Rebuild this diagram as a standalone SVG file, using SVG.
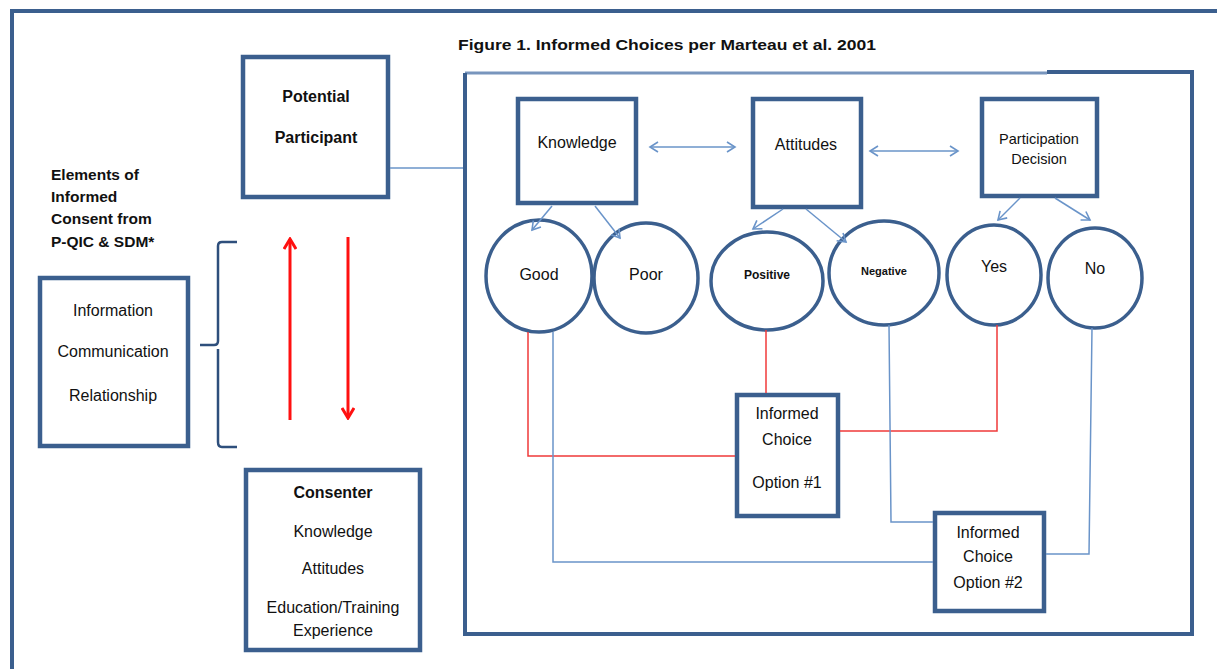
<svg xmlns="http://www.w3.org/2000/svg" width="1217" height="669" viewBox="0 0 1217 669">
<style>
.box{fill:#fff;stroke:#3b5f8e;stroke-width:4.5}
.ell{fill:#fff;stroke:#3b5f8e;stroke-width:3.5}
.t{font-family:"Liberation Sans",Arial,sans-serif;font-size:16px;fill:#111;text-anchor:middle}
.b{font-weight:bold}
.s13{font-size:14.5px}
.s11{font-size:11px;font-weight:bold}
.s12{font-size:12px;font-weight:bold}
.bl{fill:none;stroke:#6a94c9;stroke-width:1.5}
.rd{fill:none;stroke:#f03a3a;stroke-width:1.5}
.lab{font-family:"Liberation Sans",Arial,sans-serif;font-size:15.5px;font-weight:bold;fill:#111}
</style>
<defs>
<marker id="oa" markerWidth="12" markerHeight="12" refX="10" refY="6" orient="auto-start-reverse" markerUnits="userSpaceOnUse">
<path d="M2,1 L10,6 L2,11" fill="none" stroke="#6a94c9" stroke-width="1.6"/>
</marker>
<marker id="ra" markerWidth="14" markerHeight="14" refX="12" refY="7" orient="auto" markerUnits="userSpaceOnUse">
<path d="M2,1 L12,7 L2,13" fill="none" stroke="#ff1010" stroke-width="3"/>
</marker>
</defs>
<rect x="0" y="0" width="1217" height="669" fill="#fff"/>
<path d="M12,680 V11 H1230" fill="none" stroke="#3b5f8e" stroke-width="4"/>
<text x="458" y="50" font-family="Liberation Sans,Arial,sans-serif" font-size="15" font-weight="bold" fill="#111" textLength="418" lengthAdjust="spacingAndGlyphs">Figure 1. Informed Choices per Marteau et al. 2001</text>

<g id="frame">
<path d="M465,73 H1047" fill="none" stroke="#7895bd" stroke-width="3"/>
<path d="M1047,72 H1192 V634 H465 V73" fill="none" stroke="#3b5f8e" stroke-width="4"/>
</g>

<g id="potential-participant">
<rect class="box" x="243" y="57" width="145" height="140"/>
<text class="t b" x="316" y="102">Potential</text>
<text class="t b" x="316" y="143">Participant</text>
</g>

<g id="elements-label">
<text class="lab" x="51" y="180">Elements of</text>
<text class="lab" x="51" y="202">Informed</text>
<text class="lab" x="51" y="224">Consent from</text>
<text class="lab" x="51" y="247">P-QIC &amp; SDM*</text>
</g>

<g id="elements-box">
<rect class="box" x="40" y="278" width="148" height="168"/>
<text class="t" x="113" y="316">Information</text>
<text class="t" x="113" y="357">Communication</text>
<text class="t" x="113" y="401">Relationship</text>
</g>

<g id="consenter">
<rect class="box" x="246" y="470" width="174" height="180"/>
<text class="t b" x="333" y="498">Consenter</text>
<text class="t" x="333" y="537">Knowledge</text>
<text class="t" x="333" y="574">Attitudes</text>
<text class="t" x="333" y="613">Education/Training</text>
<text class="t" x="333" y="636">Experience</text>
</g>

<g id="knowledge">
<rect class="box" x="518" y="99" width="118" height="104"/>
<text class="t" x="577" y="148">Knowledge</text>
</g>
<g id="attitudes">
<rect class="box" x="753" y="99" width="108" height="108"/>
<text class="t" x="806" y="150">Attitudes</text>
</g>
<g id="participation-decision">
<rect class="box" x="982" y="99" width="115" height="97"/>
<text class="t s13" x="1039" y="144">Participation</text>
<text class="t s13" x="1039" y="164">Decision</text>
</g>

<g id="good"><ellipse class="ell" cx="539" cy="276" rx="53" ry="56"/><text class="t" x="539" y="280">Good</text></g>
<g id="poor"><ellipse class="ell" cx="646" cy="278" rx="52" ry="55"/><text class="t" x="646" y="280">Poor</text></g>
<g id="positive"><ellipse class="ell" cx="767" cy="281" rx="56" ry="49"/><text class="t s12" x="767" y="279">Positive</text></g>
<g id="negative"><ellipse class="ell" cx="884" cy="273" rx="55" ry="52"/><text class="t s11" x="884" y="275">Negative</text></g>
<g id="yes"><ellipse class="ell" cx="994" cy="275" rx="47" ry="50"/><text class="t" x="994" y="272">Yes</text></g>
<g id="no"><ellipse class="ell" cx="1095" cy="278" rx="47" ry="50"/><text class="t" x="1095" y="274">No</text></g>

<g id="option1">
<rect class="box" x="737" y="395" width="101" height="121"/>
<text class="t" x="787" y="419">Informed</text>
<text class="t" x="787" y="445">Choice</text>
<text class="t" x="787" y="488">Option #1</text>
</g>
<g id="option2">
<rect class="box" x="935" y="513" width="109" height="98"/>
<text class="t" x="988" y="538">Informed</text>
<text class="t" x="988" y="562">Choice</text>
<text class="t" x="988" y="588">Option #2</text>
</g>

<g id="connectors">
<line class="bl" x1="390" y1="168" x2="463" y2="168"/>
<line class="bl" x1="650" y1="147" x2="735" y2="147" marker-start="url(#oa)" marker-end="url(#oa)"/>
<line class="bl" x1="870" y1="151" x2="958" y2="151" marker-start="url(#oa)" marker-end="url(#oa)"/>
<line class="bl" x1="552" y1="206" x2="532" y2="230" marker-end="url(#oa)"/>
<line class="bl" x1="595" y1="206" x2="620" y2="238" marker-end="url(#oa)"/>
<line class="bl" x1="783" y1="209" x2="753" y2="229" marker-end="url(#oa)"/>
<line class="bl" x1="806" y1="209" x2="846" y2="242" marker-end="url(#oa)"/>
<line class="bl" x1="1020" y1="198" x2="998" y2="220" marker-end="url(#oa)"/>
<line class="bl" x1="1055" y1="198" x2="1090" y2="220" marker-end="url(#oa)"/>
<path class="rd" d="M528,332 V456 H735"/>
<path class="rd" d="M766,330 V393"/>
<path class="rd" d="M997,325 V431 H840"/>
<path class="bl" d="M553,332 V562 H933"/>
<path class="bl" d="M889,325 L891,522 H933"/>
<path class="bl" d="M1092,328 L1089,554 H1046"/>
<line x1="290" y1="420" x2="290" y2="239" stroke="#ff1010" stroke-width="3" marker-end="url(#ra)"/>
<line x1="348" y1="237" x2="348" y2="418" stroke="#ff1010" stroke-width="3" marker-end="url(#ra)"/>
<path d="M237,242 H222 Q218,242 218,246 V341 Q218,345 214,345 H200 M218,349 V442 Q218,447 222,447 H237" fill="none" stroke="#2e4f7c" stroke-width="2.5"/>
</g>
</svg>
